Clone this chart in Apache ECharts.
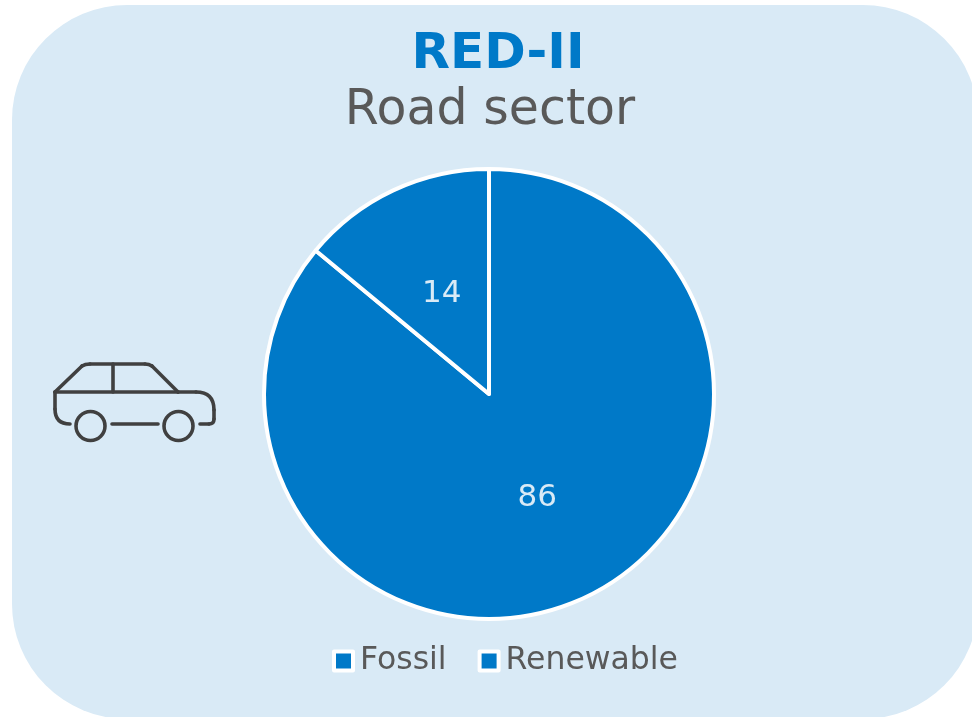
<!DOCTYPE html>
<html><head><meta charset="utf-8">
<style>html,body{margin:0;padding:0;background:#fff}#c{width:972px;height:717px}</style>
<script src="https://cdn.jsdelivr.net/npm/echarts@6/dist/echarts.min.js"></script>
</head><body><div id="c"></div>
<script>
const categories = ['Fossil', 'Renewable'];
const values = [86, 14];
const titleMain = 'RED-II';
const titleSub = 'Road sector';
const font = '"DejaVu Sans", Verdana, sans-serif';
const blue = '#0079C8', grey = '#595959', panel = '#D9EAF6';
const carStyle = {fill:null,stroke:'#404040',lineWidth:3.6,lineCap:'round',lineJoin:'round'};
const line = (a,b,c,d)=>({type:'line',z:5,silent:true,shape:{x1:a,y1:b,x2:c,y2:d},style:carStyle});
const curve = (a,b,cx,cy,c,d)=>({type:'bezierCurve',z:5,silent:true,shape:{x1:a,y1:b,cpx1:cx,cpy1:cy,x2:c,y2:d},style:carStyle});
const wheel = (x,y,r)=>({type:'circle',z:5,silent:true,shape:{cx:x,cy:y,r:r},style:carStyle});
const car = [
  curve(70,424,55,424,55,409), line(55,409,55,392), line(55,392,82,366),
  curve(82,366,85,364,90,364), line(90,364,145,364), curve(145,364,149,364,152,366),
  line(152,366,178,392), line(178,392,196,392), curve(196,392,214,392,214,410),
  line(214,410,214,419), curve(214,419,214,424,209,424), line(209,424,200,424),
  line(112,424,158,424), line(55,392,178,392), line(113,364,113,392),
  wheel(90.5,426,14.5), wheel(178.5,426,14.5)
];
const chart = echarts.init(document.getElementById('c'), null, {renderer:'canvas'});
chart.setOption({
  animation:false,
  backgroundColor:'#fff',
  title:[
    {text:titleMain,left:493,top:22,textAlign:'center',textStyle:{fontFamily:font,fontWeight:'bold',fontSize:50,color:blue,lineHeight:56}},
    {text:titleSub,left:485,top:78,textAlign:'center',textStyle:{fontFamily:font,fontWeight:'normal',fontSize:49,color:grey,lineHeight:56}}
  ],
  legend:{
    data:categories,left:332,top:645,padding:0,itemWidth:19,itemHeight:19,itemGap:31,icon:'rect',
    itemStyle:{borderColor:'#fff',borderWidth:4},
    textStyle:{fontFamily:font,fontSize:31.5,color:grey,padding:[0,0,0,2]}
  },
  graphic:[
    {type:'rect',z:-10,silent:true,shape:{x:12,y:5,width:966,height:714,r:115},style:{fill:panel}},
    ...car
  ],
  series:[{
    type:'pie',center:[489,394],radius:[0,225],startAngle:90,clockwise:true,
    data:categories.map((n,i)=>({name:n,value:values[i],label:i===1?{offset:[2,4]}:{offset:[-1,-1]}})),
    color:[blue,blue],
    itemStyle:{borderColor:'#fff',borderWidth:4},
    label:{show:true,position:'inside',formatter:'{c}',fontFamily:font,fontSize:31,color:'#D9EAF6'},
    labelLine:{show:false},emphasis:{disabled:true}
  }]
});
</script></body></html>
